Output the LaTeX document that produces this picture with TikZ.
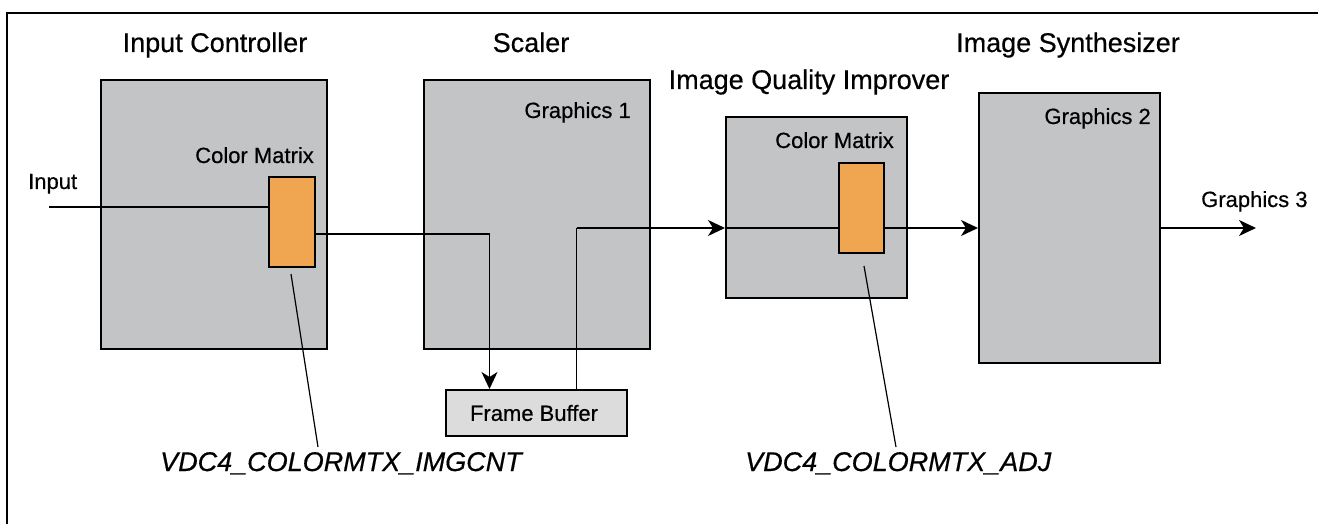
\documentclass[tikz,border=0pt]{standalone}
\usepackage{fontspec}
\setmainfont{Liberation Sans}[FakeBold=0.5]
\usetikzlibrary{arrows.meta,calc}
\definecolor{boxgray}{RGB}{195,196,198}
\definecolor{cmorange}{RGB}{240,165,80}
\definecolor{fbgray}{RGB}{220,220,220}
\begin{document}
\begin{tikzpicture}[x=1pt,y=-1pt,
  block/.style={draw=black,line width=2pt,fill=boxgray,inner sep=0pt,anchor=north west},
  cmbox/.style={draw=black,line width=2pt,fill=cmorange,inner sep=0pt,anchor=north west},
  fbbox/.style={draw=black,line width=2pt,fill=fbgray,inner sep=0pt,anchor=north west},
  title/.style={font=\fontsize{27}{30}\selectfont,inner sep=0pt,anchor=base},
  label/.style={font=\fontsize{22}{26}\selectfont,inner sep=0pt},
  reg/.style={font=\fontsize{27}{30}\selectfont\itshape,inner sep=0pt,anchor=base west},
  conn/.style={line width=1.5pt},
  arr/.style={line width=1.5pt,-{Stealth[length=17pt,width=16pt,inset=5pt]}}
]
\useasboundingbox (0,0) rectangle (1318,524);
\fill[white] (0,0) rectangle (1318,524);
% frame
\coordinate (ftl) at (7,13);
\coordinate (ftr) at (1318,13);
\coordinate (fbl) at (7,524);
\draw[line width=2.5pt] (ftr) -- (ftl) -- (fbl);

% blocks
\node[block,minimum width=226pt,minimum height=269pt] (ic) at (100,79) {};
\node[block,minimum width=226pt,minimum height=269pt] (sc) at (423,79) {};
\node[block,minimum width=181pt,minimum height=181pt] (iqi) at (725,116) {};
\node[block,minimum width=181pt,minimum height=270pt] (syn) at (978,92) {};
\node[fbbox,minimum width=181pt,minimum height=46pt] (fb) at (445,389) {};
\node[cmbox,minimum width=46pt,minimum height=90pt] (cm1) at (268,176) {};
\node[cmbox,minimum width=45pt,minimum height=90pt] (cm2) at (838,162) {};

% titles
\node[title] (t1) at (215,52) {Input Controller};
\node[title] (t2) at (531,52) {Scaler};
\node[title] (t3) at (809,89) {Image Quality Improver};
\node[title] (t4) at (1068,52) {Image Synthesizer};

% labels
\node[label,anchor=base east] (l1) at (314,163) {Color Matrix};
\node[label,anchor=base east] (l2) at (631,118) {Graphics 1};
\node[label,anchor=base east] (l3) at (894,148) {Color Matrix};
\node[label,anchor=base east] (l4) at (1151,124) {Graphics 2};
\node[label,anchor=base west] (l5) at (1201,207) {Graphics 3};
\node[label,anchor=base west] (l6) at (28,189) {Input};
\node[label] (fbt) at (534,413) {Frame Buffer};
\node[reg] (r1) at (160,471) {VDC4\_COLORMTX\_IMGCNT};
\node[reg] (r2) at (745,471) {VDC4\_COLORMTX\_ADJ};

% connectors
\coordinate (inp) at (49,207);
\draw[conn] (inp) -- (inp -| cm1.west);
\coordinate (j1) at (489.5,234);
\draw[arr] (j1 -| cm1.east) -- (j1) -- (j1 |- fb.north);
\coordinate (j2) at (576.5,228);
\draw[conn] (j2 |- fb.north) -- (j2);
\draw[arr] (j2) -- (j2 -| iqi.west);
\draw[conn] (j2 -| iqi.west) -- (j2 -| cm2.west);
\draw[arr] (j2 -| cm2.east) -- (j2 -| syn.west);
\coordinate (g3) at (1256,228);
\draw[arr] (j2 -| syn.east) -- (g3);

% leaders
\coordinate (a1) at (291,274);
\coordinate (b1) at (318,447);
\draw[line width=1.2pt] (a1) -- (b1);
\coordinate (a2) at (864,266);
\coordinate (b2) at (896,447);
\draw[line width=1.2pt] (a2) -- (b2);
\end{tikzpicture}
\end{document}
